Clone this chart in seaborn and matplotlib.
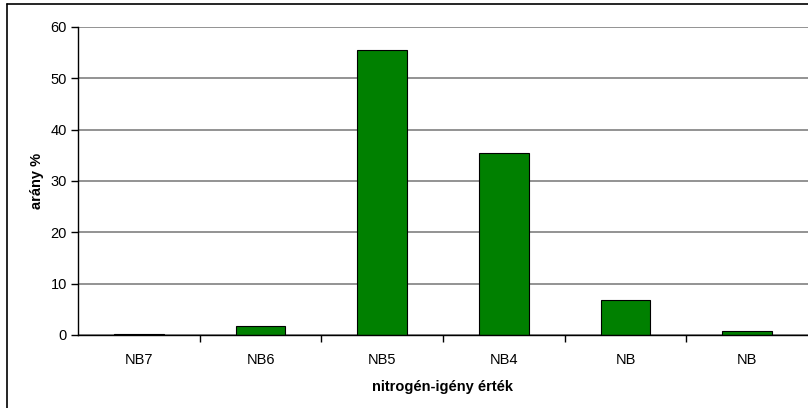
import numpy as np
import pandas as pd
import matplotlib
matplotlib.use("Agg")
import matplotlib.pyplot as plt
from matplotlib.lines import Line2D
from matplotlib.ticker import FixedLocator
import seaborn as sns

# values
categories = ["NB7", "NB6", "NB5", "NB4", "NB", "NB"]
shares = [0.2, 1.8, 55.6, 35.5, 6.8, 0.8]

df = pd.DataFrame({"pos": [str(i) for i in range(len(categories))], "share": shares})

sns.set_theme(style="white", rc={"text.color": "black", "axes.labelcolor": "black",
                                 "xtick.color": "black", "ytick.color": "black"})
plt.rcParams["font.family"] = ["Liberation Sans", "DejaVu Sans"]

fig = plt.figure(figsize=(8.08, 4.08), dpi=100)
ax = fig.add_axes([78 / 808, 1 - 335 / 408, 730 / 808, 308 / 408])

sns.barplot(data=df, x="pos", y="share", color="#008000", saturation=1,
            edgecolor="black", linewidth=0.8, width=0.41, ax=ax)

ax.set_ylim(0, 60)
ax.set_xlim(-0.5, len(categories) - 0.5)
ax.set_yticks(range(0, 61, 10))
ax.yaxis.grid(True, color="#808080", linewidth=1.2)
ax.set_axisbelow(True)
for s in ["top", "right"]:
    ax.spines[s].set_visible(False)
for s in ["left", "bottom"]:
    ax.spines[s].set_color("black")
    ax.spines[s].set_linewidth(1)

ax.set_xticks(range(len(categories)))
ax.set_xticklabels(categories)
ax.xaxis.set_minor_locator(FixedLocator(np.arange(0.5, len(categories) - 0.5, 1)))
ax.tick_params(axis="x", which="major", length=0, pad=13, labelsize=10.5)
ax.tick_params(axis="x", which="minor", bottom=True, length=5, color="black", width=1)
ax.tick_params(axis="y", left=True, length=5, color="black", width=1, labelsize=10.5, pad=3)

ax.set_xlabel("nitrogén-igény érték", fontweight="bold", fontsize=10.5, labelpad=9)
ax.set_ylabel("arány %", fontweight="bold", fontsize=10.5, labelpad=5)

# outer chart frame (left and top edges visible in reference)
fig.add_artist(Line2D([7 / 808, 7 / 808], [0, 1 - 4 / 408], color="black", linewidth=1.2, transform=fig.transFigure))
fig.add_artist(Line2D([7 / 808, 1], [1 - 4 / 408, 1 - 4 / 408], color="black", linewidth=1.2, transform=fig.transFigure))

fig.savefig("out.png", dpi=100)
